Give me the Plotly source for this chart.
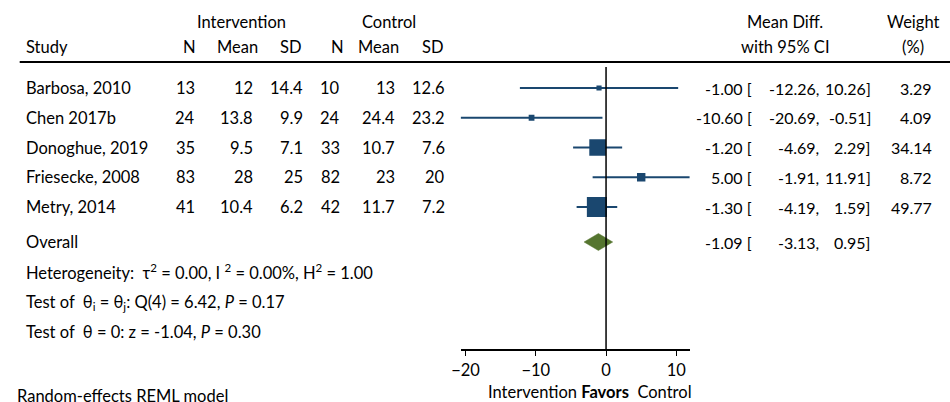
import plotly.graph_objects as go

# ---------------- data ----------------
studies = ["Barbosa, 2010", "Chen 2017b", "Donoghue, 2019", "Friesecke, 2008", "Metry, 2014"]
int_n = [13, 24, 35, 83, 41]
int_mean = ["12", "13.8", "9.5", "28", "10.4"]
int_sd = ["14.4", "9.9", "7.1", "25", "6.2"]
ctl_n = [10, 24, 33, 82, 42]
ctl_mean = ["13", "24.4", "10.7", "23", "11.7"]
ctl_sd = ["12.6", "23.2", "7.6", "20", "7.2"]
md = [-1.00, -10.60, -1.20, 5.00, -1.30]
ci_lo = [-12.26, -20.69, -4.69, -1.91, -4.19]
ci_hi = [10.26, -0.51, 2.29, 11.91, 1.59]
weight = [3.29, 4.09, 34.14, 8.72, 49.77]
overall = [-1.09, -3.13, 0.95]  # estimate, lower, upper
xticks = [-20, -10, 0, 10]

# ---------------- layout helpers ----------------
W, H = 950, 402
FONT = "Lato"
FS = 16.5
FS_NUM = 16
NAVY = "#1a476f"
GREEN = "#55752f"

# horizontal placement correction (target pixel -> paper fraction)
XA, XB = 11.3, 0.99
def X(p):
    return (p - XA) / XB / W

row0_px, row_step = 88, 29.75
def rpx(p):  # pixel -> row units
    return (p - row0_px) / row_step

axis_px = 349
y_top, y_bot = rpx(0), rpx(axis_px)
rows = list(range(len(studies)))
overall_row = rpx(242)
het_rows = [rpx(272), rpx(302), rpx(332)]

fig = go.Figure()

# CI lines
for i in rows:
    fig.add_trace(go.Scatter(x=[ci_lo[i], ci_hi[i]], y=[i, i], mode="lines",
                             line=dict(color=NAVY, width=2), hoverinfo="skip", showlegend=False))
# squares
fig.add_trace(go.Scatter(x=md, y=rows, mode="markers",
                         marker=dict(symbol="square", color=NAVY, opacity=1,
                                     size=[2.85 * w ** 0.5 for w in weight], line=dict(width=0)),
                         showlegend=False))
# overall diamond
hh = 8.5 / row_step
fig.add_trace(go.Scatter(x=[overall[1], overall[0], overall[2], overall[0], overall[1]],
                         y=[overall_row, overall_row - hh, overall_row, overall_row + hh, overall_row],
                         mode="lines", fill="toself", fillcolor=GREEN, line=dict(color=GREEN, width=0.5),
                         showlegend=False))

shapes = [
    dict(type="line", xref="x", yref="y", x0=0, x1=0, y0=rpx(67), y1=y_bot,
         line=dict(color="black", width=1.5), layer="above"),
    dict(type="line", xref="paper", yref="y", x0=X(22), x1=1, y0=rpx(62), y1=rpx(62),
         line=dict(color="black", width=2)),
]

ann = []
def txt(xpx, yrow, s, anchor="right", size=FS):
    ann.append(dict(x=X(xpx), xref="paper", y=yrow, yref="y", text=s, showarrow=False,
                    xanchor=anchor, yanchor="middle", borderpad=0,
                    font=dict(family=FONT, size=size, color="black")))

# headers
txt(244, rpx(22), "Intervention", "center")
txt(391, rpx(22), "Control", "center")
txt(27, rpx(47), "Study", "left")
for xp, s in [(199, "N"), (261, "Mean"), (305, "SD"), (347, "N"), (402, "Mean"), (447, "SD")]:
    txt(xp, rpx(47), s)
txt(787, rpx(22), "Mean Diff.", "center")
txt(787, rpx(47), "with 95% CI", "center")
txt(915, rpx(22), "Weight", "center")
txt(915, rpx(47), "(%)", "center")

for i in rows:
    txt(27, i, studies[i], "left")
    txt(198, i, str(int_n[i]))
    txt(256, i, int_mean[i])
    txt(306, i, int_sd[i])
    txt(343, i, str(ctl_n[i]))
    txt(398, i, ctl_mean[i])
    txt(448, i, ctl_sd[i])
    txt(755, i, f"{md[i]:.2f} [", size=FS_NUM)
    txt(822, i, f"{ci_lo[i]:.2f},", size=FS_NUM)
    txt(874, i, f"{ci_hi[i]:.2f}]", size=FS_NUM)
    txt(935, i, f"{weight[i]:.2f}", size=FS_NUM)

txt(27, overall_row, "Overall", "left")
txt(755, overall_row, f"{overall[0]:.2f} [", size=FS_NUM)
txt(822, overall_row, f"{overall[1]:.2f},", size=FS_NUM)
txt(874, overall_row, f"{overall[2]:.2f}]", size=FS_NUM)

txt(27, het_rows[0], "Heterogeneity:  τ<sup>2</sup> = 0.00, I <sup>2</sup> = 0.00%, H<sup>2</sup> = 1.00", "left")
txt(27, het_rows[1], "Test of  θ<sub>i</sub> = θ<sub>j</sub>: Q(4) = 6.42, <i>P</i> = 0.17", "left")
txt(27, het_rows[2], "Test of  θ = 0: z = -1.04, <i>P</i> = 0.30", "left")

# below-axis text (paper coords)
def Yp(p):
    return (H - p) / H
ann.append(dict(x=X(592), xref="paper", y=Yp(392), yref="paper", yanchor="middle",
                text="Intervention <b>Favors</b>  Control", showarrow=False, xanchor="center",
                font=dict(family=FONT, size=FS, color="black")))
ann.append(dict(x=X(17), xref="paper", y=Yp(396), yref="paper", yanchor="middle",
                text="Random-effects REML model", showarrow=False, xanchor="left",
                font=dict(family=FONT, size=FS, color="black")))

x_lo_px, x_hi_px = 462.7, 691.7
fig.update_layout(
    width=W, height=H, margin=dict(l=0, r=0, t=0, b=0),
    paper_bgcolor="white", plot_bgcolor="white",
    shapes=shapes, annotations=ann, showlegend=False,
    xaxis=dict(domain=[X(x_lo_px), X(x_hi_px)], range=[min(ci_lo), max(ci_hi)],
               tickvals=xticks, ticks="outside", ticklen=5, tickcolor="black", tickwidth=1,
               showline=True, linecolor="black", linewidth=1.5, showgrid=False, zeroline=False,
               tickfont=dict(family=FONT, size=FS, color="black"), fixedrange=True),
    yaxis=dict(domain=[Yp(axis_px), 1], range=[y_bot, y_top], visible=False,
               showgrid=False, zeroline=False, fixedrange=True),
)

fig.write_html("out.html", post_script="document.body.style.margin='0';",
               config={"displayModeBar": False})
